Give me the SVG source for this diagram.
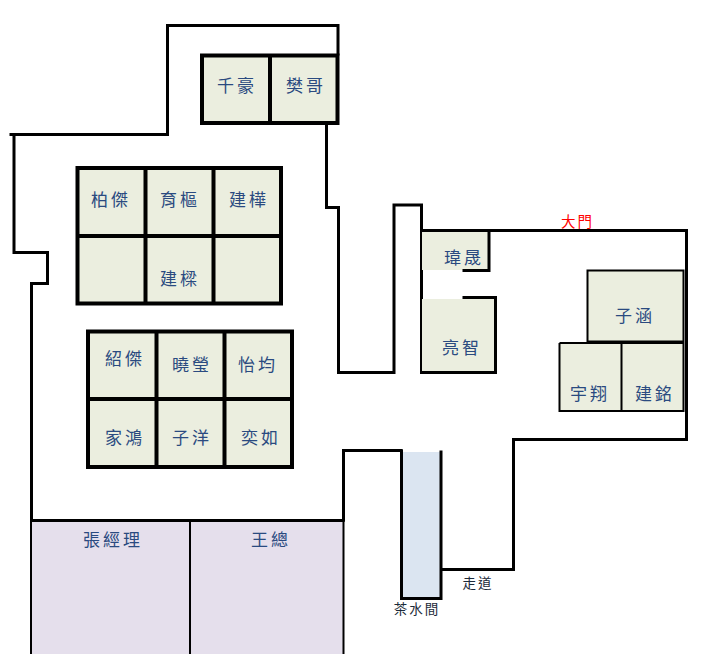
<svg xmlns="http://www.w3.org/2000/svg" width="703" height="654" viewBox="0 0 703 654">
<style>
.w{fill:none;stroke:#000;stroke-width:3;stroke-linejoin:miter;stroke-linecap:square}
.g{fill:#ebeedf}
.b{fill:none;stroke:#000;stroke-width:4}
.t{stroke:#000;stroke-width:2;fill:none}
text{font-family:"Noto Sans CJK TC","Noto Sans",sans-serif;text-anchor:middle;font-size:17px;letter-spacing:3px;fill:#2a4a80}
.s{font-size:13.5px;letter-spacing:2px;fill:#1c2b3a}
.r{font-size:14.5px;letter-spacing:2px;fill:#f00}
</style>
<rect width="703" height="654" fill="#fff"/>
<g id="connectors">
<path class="w" d="M11 134.500H167.500V25.500H338V54"/>
<path class="w" d="M14 134.500V252.500H47.500V283.500H31.500V654"/>
<path class="w" d="M326.500 124V207.500H338.500V372.500H394V205H421.500V372"/>
<path class="w" d="M343.500 520V450.500H401"/>
<path class="w" d="M441 569.500H513.500V439.500H686.500V230.500H422"/>
</g>
<g id="room-a"><rect class="g" x="202" y="55" width="136" height="68"/><path class="b" d="M202 55.500H337.500V123H202ZM270 55.500V123"/><text x="237" y="92">千豪</text><text x="306" y="92">樊哥</text></g>
<g id="room-b"><rect class="g" x="78" y="168" width="203" height="135"/><path class="b" d="M77.500 168H281V303.500H77.500ZM145.500 168V303.500M213.500 168V303.500M77.500 236H281"/><text x="111" y="206">柏傑</text><text x="180" y="206">育樞</text><text x="249" y="206">建樺</text><text x="180" y="285">建樑</text></g>
<g id="room-c"><rect class="g" x="88" y="331" width="204" height="136"/><path class="b" d="M88 331.500H292V467H88ZM156.500 331.500V467M224.500 331.500V467M88 399H292"/><text x="125" y="365">紹傑</text><text x="192" y="371">曉瑩</text><text x="258" y="371">怡均</text><text x="125" y="444">家鴻</text><text x="192" y="444">子洋</text><text x="261" y="444">奕如</text></g>
<g id="room-manager"><rect x="32" y="520" width="311" height="134" fill="#e5dfec"/><path class="t" style="stroke-width:3" d="M31.500 520.500H344.500"/><path class="t" d="M190 520V654"/><path class="t" d="M343.500 520V654"/><text x="113" y="546">張經理</text><text x="271" y="546">王總</text></g>
<g id="room-wei"><rect class="g" x="422" y="232" width="66" height="38"/><path class="w" d="M489 230.500V270.500H464"/><text x="464" y="264">瑋晟</text></g>
<g id="room-liang"><rect class="g" x="422" y="299" width="72" height="72"/><path class="w" d="M464 297.500H495.500V372.500H421.500"/><text x="462" y="354">亮智</text></g>
<g id="room-right"><rect class="g" x="588" y="271" width="95" height="71"/><rect class="g" x="560" y="344" width="123" height="67"/><path class="t" d="M587.500 342V270.500H683.500V342"/><path class="t" style="stroke-width:3" d="M587 342H684"/><path class="t" d="M559.500 343V411H683.500V343H559.500M621.500 343V411"/><text x="635" y="322">子涵</text><text x="590" y="400">宇翔</text><text x="655" y="400">建銘</text></g>
<g id="room-tea"><rect x="402" y="452" width="38" height="146" fill="#dbe5f1"/><path class="w" d="M401.500 451V598.500H441V452"/><text class="s" x="417" y="614">茶水間</text></g>
<text class="s" x="478" y="588">走道</text>
<text class="r" x="577.500" y="227">大門</text>
</svg>
